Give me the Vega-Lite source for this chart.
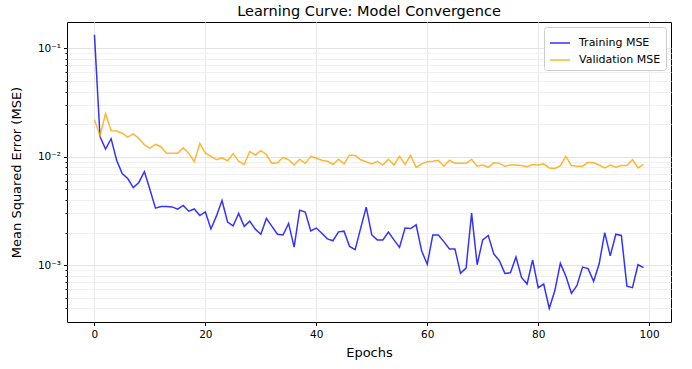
{
  "$schema": "https://vega.github.io/schema/vega-lite/v6.json",
  "width": 604,
  "height": 300,
  "autosize": {"type": "none"},
  "padding": {"left": 67, "top": 22, "right": 21, "bottom": 47},
  "background": "white",
  "config": {
    "font": "DejaVu Sans",
    "view": {"stroke": "#000000", "strokeWidth": 1},
    "axis": {"labelFont": "DejaVu Sans", "titleFont": "DejaVu Sans", "labelColor": "#000", "titleColor": "#000", "tickColor": "#000", "domainColor": "#000", "titleFontWeight": "normal"}
  },
  "title": {"text": "Learning Curve: Model Convergence", "fontSize": 14.5, "fontWeight": "normal", "font": "DejaVu Sans", "color": "#000", "anchor": "middle", "offset": 3},
  "data": {"values": [
    {"epoch":0,"Training MSE":0.134,"Validation MSE":0.022},
    {"epoch":1,"Training MSE":0.0154,"Validation MSE":0.0156},
    {"epoch":2,"Training MSE":0.0118,"Validation MSE":0.0251},
    {"epoch":3,"Training MSE":0.0147,"Validation MSE":0.0174},
    {"epoch":4,"Training MSE":0.0093,"Validation MSE":0.0173},
    {"epoch":5,"Training MSE":0.0070,"Validation MSE":0.0165},
    {"epoch":6,"Training MSE":0.0063,"Validation MSE":0.0152},
    {"epoch":7,"Training MSE":0.0052,"Validation MSE":0.0163},
    {"epoch":8,"Training MSE":0.0058,"Validation MSE":0.0148},
    {"epoch":9,"Training MSE":0.0073,"Validation MSE":0.0129},
    {"epoch":10,"Training MSE":0.0050,"Validation MSE":0.0120},
    {"epoch":11,"Training MSE":0.00336,"Validation MSE":0.0130},
    {"epoch":12,"Training MSE":0.00348,"Validation MSE":0.0124},
    {"epoch":13,"Training MSE":0.00348,"Validation MSE":0.0108},
    {"epoch":14,"Training MSE":0.00345,"Validation MSE":0.0108},
    {"epoch":15,"Training MSE":0.00329,"Validation MSE":0.0108},
    {"epoch":16,"Training MSE":0.00356,"Validation MSE":0.0121},
    {"epoch":17,"Training MSE":0.00315,"Validation MSE":0.0108},
    {"epoch":18,"Training MSE":0.0033,"Validation MSE":0.0090},
    {"epoch":19,"Training MSE":0.00287,"Validation MSE":0.0133},
    {"epoch":20,"Training MSE":0.0031,"Validation MSE":0.0108},
    {"epoch":21,"Training MSE":0.00216,"Validation MSE":0.0101},
    {"epoch":22,"Training MSE":0.00285,"Validation MSE":0.0094},
    {"epoch":23,"Training MSE":0.00395,"Validation MSE":0.0098},
    {"epoch":24,"Training MSE":0.0025,"Validation MSE":0.0092},
    {"epoch":25,"Training MSE":0.0023,"Validation MSE":0.0107},
    {"epoch":26,"Training MSE":0.0030,"Validation MSE":0.0091},
    {"epoch":27,"Training MSE":0.00228,"Validation MSE":0.0085},
    {"epoch":28,"Training MSE":0.00255,"Validation MSE":0.0112},
    {"epoch":29,"Training MSE":0.00215,"Validation MSE":0.0104},
    {"epoch":30,"Training MSE":0.00193,"Validation MSE":0.0114},
    {"epoch":31,"Training MSE":0.0027,"Validation MSE":0.0105},
    {"epoch":32,"Training MSE":0.00228,"Validation MSE":0.0087},
    {"epoch":33,"Training MSE":0.00193,"Validation MSE":0.0088},
    {"epoch":34,"Training MSE":0.0019,"Validation MSE":0.0099},
    {"epoch":35,"Training MSE":0.00243,"Validation MSE":0.0094},
    {"epoch":36,"Training MSE":0.00147,"Validation MSE":0.0084},
    {"epoch":37,"Training MSE":0.00322,"Validation MSE":0.0095},
    {"epoch":38,"Training MSE":0.00309,"Validation MSE":0.0087},
    {"epoch":39,"Training MSE":0.00207,"Validation MSE":0.0101},
    {"epoch":40,"Training MSE":0.0022,"Validation MSE":0.0097},
    {"epoch":41,"Training MSE":0.00197,"Validation MSE":0.0093},
    {"epoch":42,"Training MSE":0.00175,"Validation MSE":0.0091},
    {"epoch":43,"Training MSE":0.00168,"Validation MSE":0.0085},
    {"epoch":44,"Training MSE":0.00203,"Validation MSE":0.0095},
    {"epoch":45,"Training MSE":0.00206,"Validation MSE":0.0086},
    {"epoch":46,"Training MSE":0.00149,"Validation MSE":0.0104},
    {"epoch":47,"Training MSE":0.00139,"Validation MSE":0.0103},
    {"epoch":48,"Training MSE":0.0022,"Validation MSE":0.0094},
    {"epoch":49,"Training MSE":0.00343,"Validation MSE":0.0090},
    {"epoch":50,"Training MSE":0.0019,"Validation MSE":0.0086},
    {"epoch":51,"Training MSE":0.00171,"Validation MSE":0.0091},
    {"epoch":52,"Training MSE":0.00171,"Validation MSE":0.0084},
    {"epoch":53,"Training MSE":0.00202,"Validation MSE":0.0095},
    {"epoch":54,"Training MSE":0.00171,"Validation MSE":0.0084},
    {"epoch":55,"Training MSE":0.00146,"Validation MSE":0.0101},
    {"epoch":56,"Training MSE":0.0022,"Validation MSE":0.0085},
    {"epoch":57,"Training MSE":0.00218,"Validation MSE":0.0103},
    {"epoch":58,"Training MSE":0.00236,"Validation MSE":0.0080},
    {"epoch":59,"Training MSE":0.00135,"Validation MSE":0.0086},
    {"epoch":60,"Training MSE":0.00102,"Validation MSE":0.0090},
    {"epoch":61,"Training MSE":0.0019,"Validation MSE":0.0091},
    {"epoch":62,"Training MSE":0.0019,"Validation MSE":0.0093},
    {"epoch":63,"Training MSE":0.00165,"Validation MSE":0.0082},
    {"epoch":64,"Training MSE":0.00141,"Validation MSE":0.0093},
    {"epoch":65,"Training MSE":0.00141,"Validation MSE":0.0087},
    {"epoch":66,"Training MSE":0.00084,"Validation MSE":0.0087},
    {"epoch":67,"Training MSE":0.00094,"Validation MSE":0.0087},
    {"epoch":68,"Training MSE":0.00302,"Validation MSE":0.0095},
    {"epoch":69,"Training MSE":0.00101,"Validation MSE":0.0082},
    {"epoch":70,"Training MSE":0.00171,"Validation MSE":0.0084},
    {"epoch":71,"Training MSE":0.00188,"Validation MSE":0.0080},
    {"epoch":72,"Training MSE":0.00127,"Validation MSE":0.0088},
    {"epoch":73,"Training MSE":0.0011,"Validation MSE":0.0087},
    {"epoch":74,"Training MSE":0.00084,"Validation MSE":0.0082},
    {"epoch":75,"Training MSE":0.00085,"Validation MSE":0.0084},
    {"epoch":76,"Training MSE":0.00119,"Validation MSE":0.0084},
    {"epoch":77,"Training MSE":0.00077,"Validation MSE":0.0083},
    {"epoch":78,"Training MSE":0.00067,"Validation MSE":0.0081},
    {"epoch":79,"Training MSE":0.00112,"Validation MSE":0.0085},
    {"epoch":80,"Training MSE":0.00062,"Validation MSE":0.0084},
    {"epoch":81,"Training MSE":0.00067,"Validation MSE":0.0086},
    {"epoch":82,"Training MSE":0.0004,"Validation MSE":0.0079},
    {"epoch":83,"Training MSE":0.00058,"Validation MSE":0.0078},
    {"epoch":84,"Training MSE":0.00104,"Validation MSE":0.0083},
    {"epoch":85,"Training MSE":0.00079,"Validation MSE":0.0101},
    {"epoch":86,"Training MSE":0.00055,"Validation MSE":0.0083},
    {"epoch":87,"Training MSE":0.00065,"Validation MSE":0.0082},
    {"epoch":88,"Training MSE":0.00096,"Validation MSE":0.0082},
    {"epoch":89,"Training MSE":0.00093,"Validation MSE":0.0089},
    {"epoch":90,"Training MSE":0.00071,"Validation MSE":0.0088},
    {"epoch":91,"Training MSE":0.00103,"Validation MSE":0.0084},
    {"epoch":92,"Training MSE":0.0020,"Validation MSE":0.0079},
    {"epoch":93,"Training MSE":0.00122,"Validation MSE":0.0084},
    {"epoch":94,"Training MSE":0.00193,"Validation MSE":0.0080},
    {"epoch":95,"Training MSE":0.00188,"Validation MSE":0.0083},
    {"epoch":96,"Training MSE":0.00064,"Validation MSE":0.0083},
    {"epoch":97,"Training MSE":0.00062,"Validation MSE":0.0094},
    {"epoch":98,"Training MSE":0.00101,"Validation MSE":0.0079},
    {"epoch":99,"Training MSE":0.00095,"Validation MSE":0.0085}
  ]},
  "transform": [{"fold": ["Training MSE", "Validation MSE"], "as": ["series", "mse"]}],
  "mark": {"type": "line", "strokeWidth": 1.5, "opacity": 0.8, "clip": true},
  "encoding": {
    "x": {
      "field": "epoch", "type": "quantitative",
      "scale": {"domain": [-4.95, 103.95], "nice": false, "zero": false},
      "axis": {"title": "Epochs", "titleFontSize": 13, "titlePadding": 6, "labelFontSize": 10.5, "labelPadding": 4, "values": [0, 20, 40, 60, 80, 100], "format": "d", "tickSize": 3.5, "grid": true, "gridColor": "#e8e8e8", "gridOpacity": 1, "domain": false, "labelFlush": false}
    },
    "y": {
      "field": "mse", "type": "quantitative",
      "scale": {"type": "log", "domain": [0.000299, 0.1754], "nice": false, "zero": false},
      "axis": {
        "title": "Mean Squared Error (MSE)", "titleFontSize": 13, "titlePadding": 14, "labelFontSize": 10.5, "labelPadding": 3, "domain": false,
        "values": [0.0004,0.0005,0.0006,0.0007,0.0008,0.0009,0.001,0.002,0.003,0.004,0.005,0.006,0.007,0.008,0.009,0.01,0.02,0.03,0.04,0.05,0.06,0.07,0.08,0.09,0.1],
        "labelExpr": "datum.value === 0.1 ? '10⁻¹' : datum.value === 0.01 ? '10⁻²' : datum.value === 0.001 ? '10⁻³' : ''",
        "tickSize": {"condition": {"test": "datum.value === 0.1 || datum.value === 0.01 || datum.value === 0.001", "value": 3.5}, "value": 2},
        "grid": true,
        "gridColor": {"condition": {"test": "datum.value === 0.1 || datum.value === 0.01 || datum.value === 0.001", "value": "#e3e3e3"}, "value": "#f0f0f0"},
        "gridOpacity": 1,
        "labelOverlap": false
      }
    },
    "color": {
      "field": "series", "type": "nominal",
      "scale": {"domain": ["Training MSE", "Validation MSE"], "range": ["#0000ff", "#ffa500"]},
      "legend": {"title": null, "orient": "top-right", "offset": 5, "symbolType": "stroke", "symbolSize": 400, "symbolStrokeWidth": 1.5, "symbolOpacity": 0.8, "labelFontSize": 11, "labelFont": "DejaVu Sans", "labelColor": "#000", "fillColor": "white", "strokeColor": "#cccccc", "cornerRadius": 3, "padding": 5, "rowPadding": 1, "labelOffset": 8}
    }
  }
}
